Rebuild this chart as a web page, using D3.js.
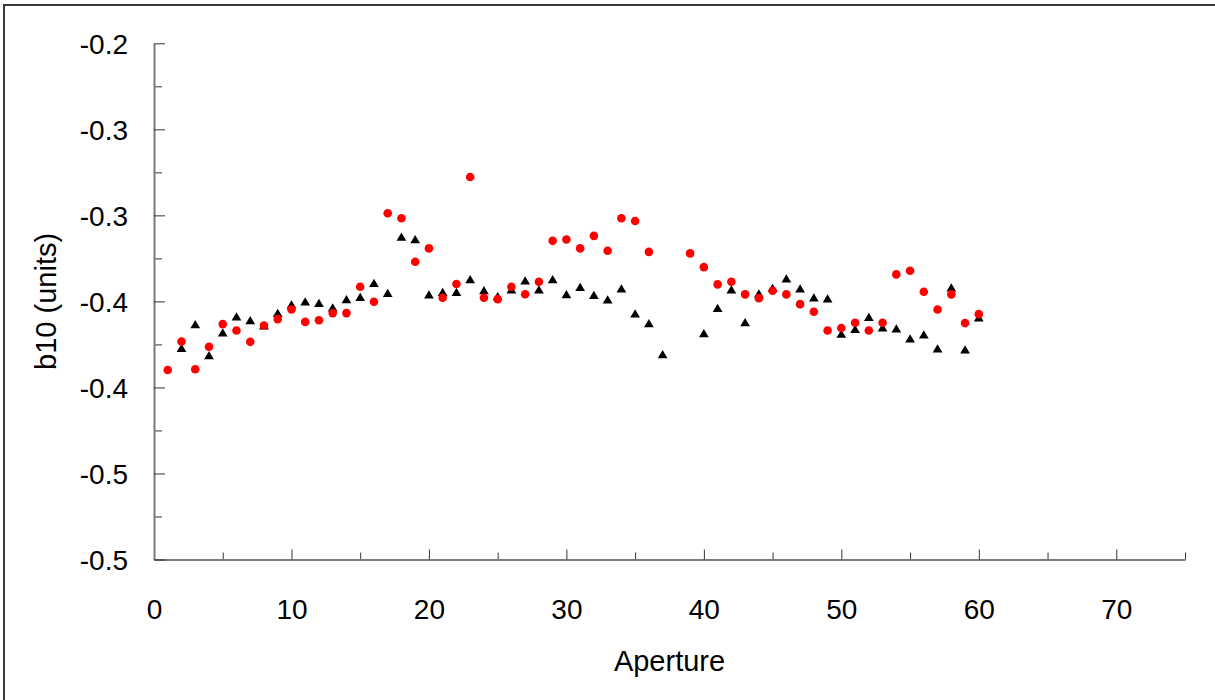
<!DOCTYPE html>
<html>
<head>
<meta charset="utf-8">
<script src="https://cdn.jsdelivr.net/npm/d3@7/dist/d3.min.js"></script>
<style>
  html, body { margin: 0; padding: 0; background: #fff; }
  svg { display: block; font-family: "Liberation Sans", Arial, sans-serif; }
</style>
</head>
<body>
<svg id="chart" width="1215" height="700"></svg>
<script>
// Aperture numbers 1..60
const apertures = d3.range(1, 61);

// b10 per aperture, black triangles (null = no measurement)
const b10Black = [
  null, -0.3770, -0.3632, -0.3812, -0.3680, -0.3587, -0.3609, -0.3640, -0.3566, -0.3517,
  -0.3500, -0.3508, -0.3535, -0.3487, -0.3473, -0.3392, -0.3450, -0.3124, -0.3138, -0.3459,
  -0.3444, -0.3444, -0.3370, -0.3434, -0.3469, -0.3430, -0.3378, -0.3430, -0.3370, -0.3458,
  -0.3415, -0.3462, -0.3488, -0.3424, -0.3570, -0.3626, -0.3806, null, null, -0.3684,
  -0.3537, -0.3430, -0.3620, -0.3453, -0.3421, -0.3366, -0.3424, -0.3477, -0.3483, -0.3688,
  -0.3659, -0.3590, -0.3651, -0.3657, -0.3715, -0.3692, -0.3773, -0.3419, -0.3779, -0.3593
];

// b10 per aperture, red circles
const b10Red = [
  -0.3899, -0.3733, -0.3894, -0.3764, -0.3632, -0.3669, -0.3735, -0.3640, -0.3603, -0.3547,
  -0.3619, -0.3610, -0.3568, -0.3568, -0.3415, -0.3502, -0.2988, -0.3017, -0.3270, -0.3192,
  -0.3479, -0.3399, -0.2777, -0.3479, -0.3487, -0.3415, -0.3458, -0.3386, -0.3148, -0.3140,
  -0.3192, -0.3119, -0.3206, -0.3017, -0.3033, -0.3212, null, null, -0.3221, -0.3301,
  -0.3401, -0.3386, -0.3459, -0.3481, -0.3438, -0.3459, -0.3516, -0.3560, -0.3669, -0.3655,
  -0.3624, -0.3669, -0.3624, -0.3343, -0.3322, -0.3444, -0.3547, -0.3459, -0.3626, -0.3574
];

// Axis ticks and their printed labels (one decimal place)
const xMajorTicks = [0, 10, 20, 30, 40, 50, 60, 70];
const xMinorTicks = [5, 15, 25, 35, 45, 55, 65, 75];
const xTickLabels = ["0", "10", "20", "30", "40", "50", "60", "70"];
const yMajorTicks = [-0.2, -0.25, -0.3, -0.35, -0.4, -0.45, -0.5];
const yMinorTicks = [-0.225, -0.275, -0.325, -0.375, -0.425, -0.475];
const yTickLabels = ["-0.2", "-0.3", "-0.3", "-0.4", "-0.4", "-0.5", "-0.5"];

const xTitle = "Aperture";
const yTitle = "b10 (units)";

const svg = d3.select("#chart");

// outer frame
svg.append("rect")
  .attr("x", 4).attr("y", 5)
  .attr("width", 1240).attr("height", 720)
  .attr("fill", "none").attr("stroke", "#3a3a3a").attr("stroke-width", 2);

const plot = { left: 154, right: 1185, top: 43.3, bottom: 559.5 };

const x = d3.scaleLinear().domain([0, 75]).range([plot.left, plot.right]);
const y = d3.scaleLinear().domain([-0.5, -0.2]).range([plot.bottom, plot.top]);

const axisColor = "#7a7a7a";
const fontSize = 28;
const titleSize = 29;

// X axis: major/minor ticks point into the plot
const gx = svg.append("g").attr("transform", `translate(0,${plot.bottom})`);
gx.append("g")
  .call(d3.axisBottom(x).tickValues(xMinorTicks).tickSize(-7).tickFormat(""))
  .call(g => g.select(".domain").remove())
  .call(g => g.selectAll("line").attr("stroke", "#333"));
gx.append("g")
  .call(d3.axisBottom(x).tickValues(xMajorTicks).tickSizeInner(-10).tickSizeOuter(0)
    .tickPadding(0).tickFormat((d, i) => xTickLabels[i]))
  .call(g => g.select(".domain").attr("stroke", axisColor).attr("stroke-width", 2))
  .call(g => g.selectAll("line").attr("stroke", "#333"))
  .call(g => g.selectAll("text")
    .attr("y", 59).attr("dy", 0)
    .attr("fill", "#000").style("font-size", fontSize + "px")
    .style("font-family", "'Liberation Sans', Arial, sans-serif"));

// Y axis
const gy = svg.append("g").attr("transform", `translate(${plot.left},0)`);
gy.append("g")
  .call(d3.axisLeft(y).tickValues(yMinorTicks).tickSize(-8).tickFormat(""))
  .call(g => g.select(".domain").remove())
  .call(g => g.selectAll("line").attr("stroke", "#333"));
gy.append("g")
  .call(d3.axisLeft(y).tickValues(yMajorTicks).tickSizeInner(-11).tickSizeOuter(0)
    .tickPadding(0).tickFormat((d, i) => yTickLabels[i]))
  .call(g => g.select(".domain").attr("stroke", axisColor).attr("stroke-width", 2))
  .call(g => g.selectAll("line").attr("stroke", "#333"))
  .call(g => g.selectAll("text")
    .attr("x", -26).attr("dy", "0.35em")
    .attr("fill", "#000").style("font-size", fontSize + "px")
    .style("font-family", "'Liberation Sans', Arial, sans-serif"));

// axis titles
svg.append("text")
  .attr("x", (plot.left + plot.right) / 2).attr("y", 671)
  .attr("text-anchor", "middle")
  .style("font-size", titleSize + "px")
  .text(xTitle);

svg.append("text")
  .attr("transform", `translate(56,${(plot.top + plot.bottom) / 2}) rotate(-90)`)
  .attr("text-anchor", "middle")
  .style("font-size", titleSize + "px")
  .text(yTitle);

// upward triangle centred on its bounding box
const triangleUp = {
  draw(ctx, size) {
    const h = Math.sqrt(size);
    const w = h * 1.18;
    ctx.moveTo(0, -h / 2);
    ctx.lineTo(w / 2, h / 2);
    ctx.lineTo(-w / 2, h / 2);
    ctx.closePath();
  }
};

const blackPts = apertures.map((a, i) => ({ a, v: b10Black[i] })).filter(d => d.v != null);
const redPts = apertures.map((a, i) => ({ a, v: b10Red[i] })).filter(d => d.v != null);

svg.append("g").selectAll("path")
  .data(blackPts)
  .join("path")
  .attr("transform", d => `translate(${x(d.a)},${y(d.v)})`)
  .attr("d", d3.symbol().type(triangleUp).size(68))
  .attr("fill", "#000");

svg.append("g").selectAll("path")
  .data(redPts)
  .join("path")
  .attr("transform", d => `translate(${x(d.a)},${y(d.v)})`)
  .attr("d", d3.symbol().type(d3.symbolCircle).size(58))
  .attr("fill", "#ff0000");
</script>
</body>
</html>
